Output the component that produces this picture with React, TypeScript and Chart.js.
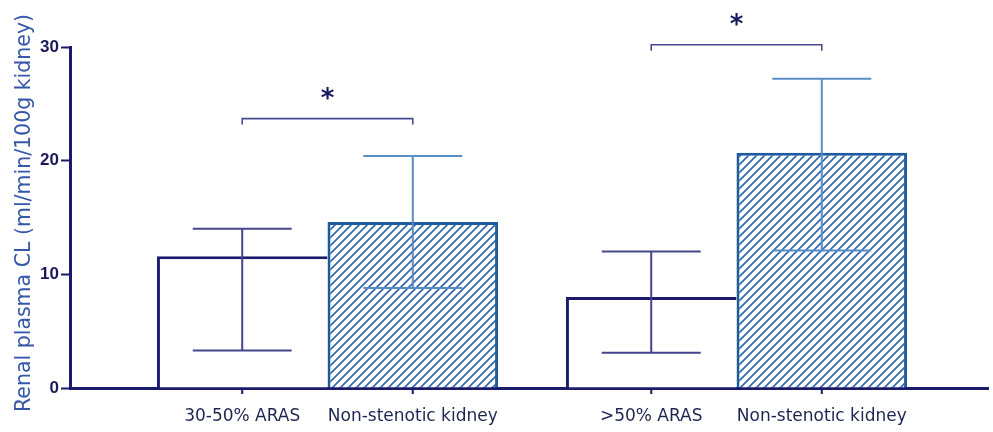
import React, { useEffect, useRef } from "react";
import { Chart, registerables } from "chart.js";

Chart.register(...registerables);

// ---- data ----
const groupPositions = [1, 2];
const barLabels = [
  ["30-50% ARAS", "Non-stenotic kidney"],
  [">50% ARAS", "Non-stenotic kidney"],
];
const stenoticMeans = [11.6, 8.0];
const stenoticLow = [3.3, 3.1];
const stenoticHigh = [14.0, 12.0];
const nonStenoticMeans = [14.6, 20.7];
const nonStenoticLow = [8.8, 12.1];
const nonStenoticHigh = [20.4, 27.2];
const bracketLevels = [23.7, 30.2];
const yTicks = [0, 10, 20, 30];
const yTitle = "Renal plasma CL (ml/min/100g kidney)";

const NAVY = "#1b1b6b";
const BLUE = "#1f5a9c";
const HATCH = "#2f66ab";
const ERR_DARK = "#45458c";
const ERR_BLUE = "#5a8cc6";

function makeHatch(): CanvasPattern | string {
  const s = 8;
  const c = document.createElement("canvas");
  c.width = s;
  c.height = s;
  const g = c.getContext("2d");
  if (!g) return "#fff";
  g.fillStyle = "#ffffff";
  g.fillRect(0, 0, s, s);
  g.strokeStyle = HATCH;
  g.lineWidth = 1.6;
  g.beginPath();
  g.moveTo(-1, 1);
  g.lineTo(1, -1);
  g.moveTo(0, s);
  g.lineTo(s, 0);
  g.moveTo(s - 1, s + 1);
  g.lineTo(s + 1, s - 1);
  g.stroke();
  return g.createPattern(c, "repeat") || "#fff";
}

const overlayPlugin = {
  id: "overlay",
  afterDatasetsDraw(chart: any) {
    const ctx = chart.ctx;
    const y = chart.scales.y;
    const m0 = chart.getDatasetMeta(0);
    const m1 = chart.getDatasetMeta(1);
    const drawErr = (el: any, lo: number, hi: number, color: string) => {
      const half = el.width * 0.29;
      const yl = y.getPixelForValue(lo);
      const yh = y.getPixelForValue(hi);
      ctx.save();
      ctx.strokeStyle = color;
      ctx.lineWidth = 2;
      ctx.beginPath();
      ctx.moveTo(el.x, yl);
      ctx.lineTo(el.x, yh);
      ctx.moveTo(el.x - half, yl);
      ctx.lineTo(el.x + half, yl);
      ctx.moveTo(el.x - half, yh);
      ctx.lineTo(el.x + half, yh);
      ctx.stroke();
      ctx.restore();
    };
    m0.data.forEach((el: any, i: number) => drawErr(el, stenoticLow[i], stenoticHigh[i], ERR_DARK));
    m1.data.forEach((el: any, i: number) => drawErr(el, nonStenoticLow[i], nonStenoticHigh[i], ERR_BLUE));
  },
  afterDraw(chart: any) {
    const ctx = chart.ctx;
    const y = chart.scales.y;
    const m0 = chart.getDatasetMeta(0);
    const m1 = chart.getDatasetMeta(1);
    const base = y.getPixelForValue(0);
    ctx.save();
    // x tick marks and labels
    ctx.fillStyle = "#1e2550";
    ctx.font = '17px "DejaVu Sans"';
    ctx.textAlign = "center";
    ctx.textBaseline = "middle";
    groupPositions.forEach((_, i) => {
      [m0.data[i], m1.data[i]].forEach((el: any, j: number) => {
        ctx.strokeStyle = NAVY;
        ctx.lineWidth = 2;
        ctx.beginPath();
        ctx.moveTo(el.x, base);
        ctx.lineTo(el.x, base + 6);
        ctx.stroke();
        ctx.fillText(barLabels[i][j], el.x, base + 29);
      });
    });
    // brackets and asterisks
    groupPositions.forEach((_, i) => {
      const a = m0.data[i].x;
      const b = m1.data[i].x;
      const by = y.getPixelForValue(bracketLevels[i]);
      ctx.strokeStyle = "#4a4a92";
      ctx.lineWidth = 1.6;
      ctx.beginPath();
      ctx.moveTo(a, by + 6);
      ctx.lineTo(a, by);
      ctx.lineTo(b, by);
      ctx.lineTo(b, by + 6);
      ctx.stroke();
      ctx.fillStyle = "#1a1a5e";
      ctx.font = 'bold 26px "DejaVu Sans"';
      ctx.textAlign = "center";
      ctx.textBaseline = "alphabetic";
      ctx.fillText("*", (a + b) / 2, by - 27 + 15);
    });
    // y title
    ctx.translate(25, 213);
    ctx.rotate(-Math.PI / 2);
    ctx.fillStyle = "#3558a8";
    ctx.font = '20.5px "DejaVu Sans"';
    ctx.textAlign = "center";
    ctx.textBaseline = "middle";
    ctx.fillText(yTitle, 0, 0);
    ctx.restore();
  },
};

export default function App() {
  const ref = useRef<HTMLCanvasElement | null>(null);
  useEffect(() => {
    if (!ref.current) return;
    const hatch = makeHatch();
    const chart = new Chart(ref.current, {
      type: "bar",
      data: {
        datasets: [
          {
            label: "Stenotic",
            data: groupPositions.map((x, i) => ({ x, y: stenoticMeans[i] })),
            backgroundColor: "#ffffff",
            borderColor: NAVY,
            borderWidth: { top: 3, left: 3, right: 0, bottom: 0 },
            borderSkipped: false,
            categoryPercentage: 0.834,
            barPercentage: 1,
          },
          {
            label: "Non-stenotic",
            data: groupPositions.map((x, i) => ({ x, y: nonStenoticMeans[i] })),
            backgroundColor: hatch as any,
            borderColor: BLUE,
            borderWidth: { top: 3, left: 3, right: 3, bottom: 0 },
            borderSkipped: false,
            categoryPercentage: 0.834,
            barPercentage: 1,
          },
        ] as any,
      },
      options: {
        animation: false,
        responsive: false,
        devicePixelRatio: 1,
        layout: { padding: { top: 47, right: 5, left: 0, bottom: 0 } },
        plugins: { legend: { display: false }, tooltip: { enabled: false } },
        scales: {
          x: {
            type: "linear",
            min: 0.3704,
            max: 2.6149,
            offset: false,
            z: 1,
            grid: { display: false, drawTicks: false },
            border: { display: true, color: NAVY, width: 3 },
            ticks: { display: false },
            afterBuildTicks: (s: any) => {
              s.ticks = groupPositions.map((v) => ({ value: v }));
            },
            afterFit: (s: any) => {
              s.height = 44;
            },
          },
          y: {
            min: 0,
            max: 30,
            z: 1,
            afterBuildTicks: (s: any) => {
              s.ticks = yTicks.map((v) => ({ value: v }));
            },
            ticks: {
              color: "#1a1a5a",
              font: { family: '"Liberation Sans"', size: 17, weight: "bold" },
              padding: 2,
            },
            grid: { drawOnChartArea: false, tickLength: 9, tickWidth: 2, tickColor: NAVY },
            border: { display: true, color: NAVY, width: 3 },
            afterFit: (s: any) => {
              s.width = 70;
            },
          },
        },
      } as any,
      plugins: [overlayPlugin],
    });
    return () => chart.destroy();
  }, []);
  return (
    <div style={{ position: "absolute", left: 0, top: 0, width: 993, height: 432, background: "#fff" }}>
      <canvas ref={ref} width={993} height={432} />
    </div>
  );
}
